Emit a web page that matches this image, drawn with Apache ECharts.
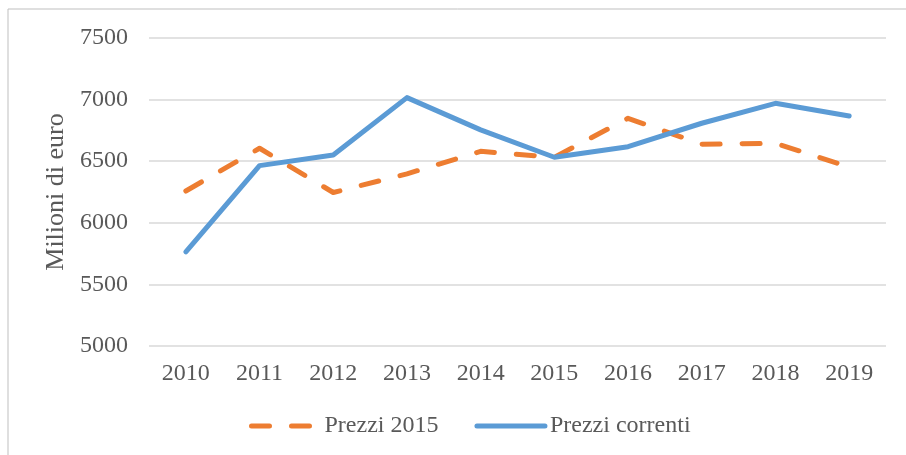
<!DOCTYPE html>
<html>
<head>
<meta charset="utf-8">
<script src="https://cdn.jsdelivr.net/npm/echarts@6/dist/echarts.min.js"></script>
<style>
  html, body { margin: 0; padding: 0; background: #fff; }
  #chart { width: 906px; height: 455px; }
</style>
</head>
<body>
<div id="chart"></div>
<script>
var anni = ['2010', '2011', '2012', '2013', '2014', '2015', '2016', '2017', '2018', '2019'];
var prezzi2015 = [6258, 6605, 6246, 6397, 6580, 6532, 6848, 6638, 6646, 6453];
var prezziCorrenti = [5765, 6464, 6551, 7016, 6754, 6532, 6618, 6808, 6970, 6867];

var fontFam = '"Liberation Serif", "Times New Roman", serif';
var grigio = '#595959';

var chart = echarts.init(document.getElementById('chart'));
chart.setOption({
    animation: false,
    backgroundColor: '#fff',
    graphic: [{
        type: 'rect',
        shape: { x: 8, y: 9, width: 920, height: 470 },
        style: { fill: 'none', stroke: '#bfbfbf', lineWidth: 1 },
        silent: true
    }],
    grid: {
        left: 149,
        right: 20,
        top: 38,
        bottom: 109
    },
    legend: {
        bottom: 12,
        left: 244,
        itemWidth: 68,
        itemHeight: 14,
        itemGap: 36,
        itemStyle: { opacity: 0 },
        lineStyle: { width: 5 },
        textStyle: { fontFamily: fontFam, fontSize: 24, color: grigio },
        data: ['Prezzi 2015', 'Prezzi correnti']
    },
    xAxis: {
        type: 'category',
        data: anni,
        axisLine: { show: false },
        axisTick: { show: false },
        axisLabel: { fontFamily: fontFam, fontSize: 24, color: grigio, margin: 16 }
    },
    yAxis: {
        type: 'value',
        min: 5000,
        max: 7500,
        interval: 500,
        name: 'Milioni di euro',
        nameLocation: 'middle',
        nameGap: 77,
        nameTextStyle: { fontFamily: fontFam, fontSize: 26, color: grigio },
        axisLabel: {
            fontFamily: fontFam, fontSize: 24, color: grigio, margin: 21,
            formatter: function (v) { return String(v); }
        },
        splitLine: { lineStyle: { color: '#d9d9d9', width: 1.5 } }
    },
    series: [{
        name: 'Prezzi 2015',
        type: 'line',
        data: prezzi2015,
        symbol: 'none',
        lineStyle: { color: '#ED7D31', width: 5, type: [18, 22], cap: 'round', join: 'round' },
        itemStyle: { color: '#ED7D31' }
    }, {
        name: 'Prezzi correnti',
        type: 'line',
        data: prezziCorrenti,
        symbol: 'none',
        z: 3,
        lineStyle: { color: '#5B9BD5', width: 5, cap: 'round', join: 'round' },
        itemStyle: { color: '#5B9BD5' }
    }]
});
</script>
</body>
</html>
